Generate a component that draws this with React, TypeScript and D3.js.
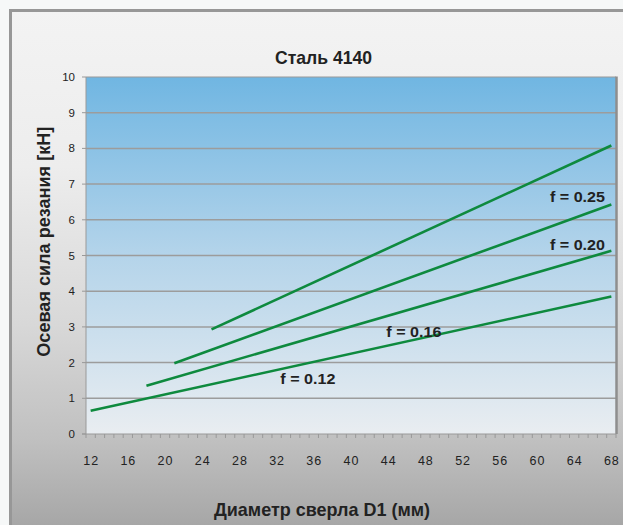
import React from "react";
import * as d3 from "d3";

const diameters: number[] = d3.range(12, 69);
const xTickLabels = [12, 16, 20, 24, 28, 32, 36, 40, 44, 48, 52, 56, 60, 64, 68];
const yTicks = [0, 1, 2, 3, 4, 5, 6, 7, 8, 9, 10];

const seriesNames = ["f = 0.12", "f = 0.16", "f = 0.20", "f = 0.25"];
const seriesD = [
  [12, 68],
  [18, 68],
  [21, 68],
  [25, 68],
];
const seriesKN = [
  [0.65, 3.85],
  [1.35, 5.13],
  [1.98, 6.43],
  [2.93, 8.08],
];
// label anchor positions given as data coordinates (D, kN)
const labelD = [32.4, 43.8, 61.4, 61.4];
const labelKN = [1.4, 2.72, 5.15, 6.5];

const W = 623;
const H = 525;
const PL = 86, PR = 616, PT = 77, PB = 434;

export default function App() {
  const x = d3.scaleBand<number>().domain(diameters).range([PL, PR]).padding(0);
  const bw = x.bandwidth();
  const cx = (d: number) => PL + (d - diameters[0]) * bw + bw / 2;
  const y = d3.scaleLinear().domain([0, 10]).range([PB, PT]);
  const line = d3
    .line<[number, number]>()
    .x((p) => cx(p[0]))
    .y((p) => y(p[1]));

  const boundaries = diameters.map((d) => x(d) as number).concat([PR]);
  const font = "'Liberation Sans', Arial, Helvetica, sans-serif";

  return (
    <svg
      width={W}
      height={H}
      style={{ position: "absolute", left: 0, top: 0 }}
      fontFamily={font}
    >
      <defs>
        <linearGradient id="panelG" x1="0" y1="0" x2="0" y2="1">
          <stop offset="0" stopColor="#f3f3f3" />
          <stop offset="0.3" stopColor="#ededed" />
          <stop offset="0.6" stopColor="#d8d8d8" />
          <stop offset="0.82" stopColor="#c0c0c0" />
          <stop offset="1" stopColor="#a4a4a4" />
        </linearGradient>
        <linearGradient id="plotG" x1="0" y1="0" x2="0" y2="1">
          <stop offset="0" stopColor="#70b6e2" />
          <stop offset="0.5" stopColor="#b4d4ea" />
          <stop offset="1" stopColor="#e9edf1" />
        </linearGradient>
      </defs>
      <rect x={0} y={0} width={W} height={H} fill="#f6f8f8" />
      <rect x={9} y={9} width={W} height={H} fill="url(#panelG)" />
      <rect x={9} y={9} width={3} height={H} fill="#979797" />
      <rect x={9} y={9} width={W} height={3} fill="#979797" />

      <rect x={PL} y={PT} width={PR - PL} height={PB - PT} fill="url(#plotG)" />
      {yTicks
        .filter((t) => t > 0 && t < 10)
        .map((t) => (
          <line key={t} x1={PL} x2={PR} y1={y(t)} y2={y(t)} stroke="#9c9c9c" strokeWidth={1.5} />
        ))}
      <line x1={PL} x2={PR} y1={PT} y2={PT} stroke="#999" strokeWidth={1} />
      <line x1={PL} x2={PL} y1={PT} y2={PB} stroke="#999" strokeWidth={1} />
      <line x1={PR + 0.5} x2={PR + 0.5} y1={PT - 0.5} y2={PB} stroke="#8e8e8e" strokeWidth={2.5} />
      <line x1={PL - 4} x2={PR} y1={PB} y2={PB} stroke="#999" strokeWidth={1} />

      {yTicks.map((t) => (
        <g key={t}>
          <line x1={PL - 4} x2={PL} y1={y(t)} y2={y(t)} stroke="#999" />
          <text x={PL - 11} y={y(t) + 4} textAnchor="end" fontSize={11.5} fill="#222">
            {t}
          </text>
        </g>
      ))}
      {boundaries.map((b, i) => (
        <line key={i} x1={b} x2={b} y1={PB} y2={PB + 4} stroke="#999" />
      ))}
      {xTickLabels.map((t) => (
        <text key={t} x={cx(t) + 0.5} y={465} textAnchor="middle" fontSize={12.5} letterSpacing={1} fill="#222">
          {t}
        </text>
      ))}

      {seriesNames.map((n, i) => (
        <path
          key={n}
          d={line(seriesD[i].map((d, j) => [d, seriesKN[i][j]] as [number, number])) || ""}
          fill="none"
          stroke="#0e8a3e"
          strokeWidth={2.6}
        />
      ))}
      {seriesNames.map((n, i) => (
        <text
          key={n}
          x={cx(labelD[i])}
          y={y(labelKN[i])}
          fontSize={15.5}
          fontWeight="bold"
          fill="#222"
          textLength={55}
          lengthAdjust="spacingAndGlyphs"
        >
          {n}
        </text>
      ))}

      <text x={275} y={63.5} fontSize={19} fontWeight="bold" fill="#222" textLength={97} lengthAdjust="spacingAndGlyphs">
        Сталь 4140
      </text>
      <text
        transform="translate(50,356.7) rotate(-90)"
        x={0}
        y={0}
        fontSize={19}
        fontWeight="bold"
        fill="#222"
        textLength={230}
        lengthAdjust="spacingAndGlyphs"
      >
        Осевая сила резания [кН]
      </text>
      <text x={214} y={516} fontSize={19} fontWeight="bold" fill="#222" textLength={216} lengthAdjust="spacingAndGlyphs">
        Диаметр сверла D1 (мм)
      </text>
    </svg>
  );
}
